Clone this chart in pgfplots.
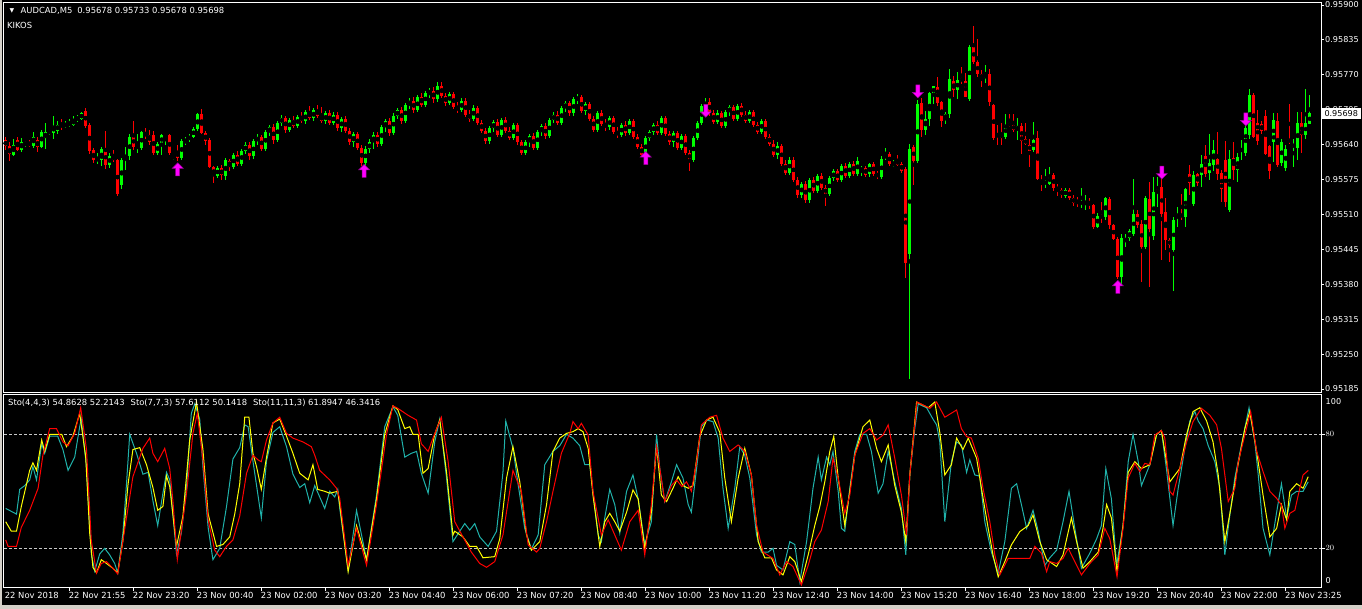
\documentclass[border=0pt]{standalone}
\usepackage{fontspec}
\setmainfont{DejaVu Sans}
\usepackage{pgfplots}
\pgfplotsset{compat=1.18}
\usepackage{pgfplotstable}
\definecolor{bull}{RGB}{0,255,0}
\definecolor{bear}{RGB}{255,0,0}
\definecolor{stoA}{RGB}{32,178,170}
\definecolor{stoB}{RGB}{255,255,0}
\definecolor{stoC}{RGB}{255,0,0}
\definecolor{arr}{RGB}{255,0,255}
\definecolor{arrline}{RGB}{150,0,150}
\definecolor{winedge}{RGB}{212,208,200}
\definecolor{lvl}{RGB}{200,200,200}

% candles in units of 0.00001 above 0.95000
\pgfplotstableread{
o h l c
648 655 630 637
637 645 610 622
621 650 618 639
648 655 628 630
630 652 626 644
641 646 636 644
644 648 636 638
638 664 634 655
649 655 627 636
636 668 634 664
652 680 632 664
662 668 658 666
662 693 650 675
665 684 660 677
677 688 668 674
674 684 670 678
676 688 672 680
677 694 675 686
685 696 682 692
688 700 686 698
703 709 670 675
677 680 623 628
630 633 605 611
611 625 603 614
611 635 600 631
631 665 595 602
602 625 596 619
619 630 608 611
611 614 545 548
565 615 558 611
616 635 592 619
619 660 612 654
656 684 630 636
634 660 625 637
634 666 630 663
662 670 650 656
658 668 640 644
658 665 620 625
625 645 620 641
641 660 620 658
656 660 640 658
658 660 620 624
616 620 612 618
627 640 610 615
615 650 612 647
643 655 640 649
649 660 645 656
655 672 652 669
669 698 665 697
697 706 660 661
662 666 640 647
649 652 596 598
598 600 569 582
582 600 578 596
596 602 575 583
582 615 575 611
610 614 590 599
599 625 594 620
620 628 600 604
604 632 600 628
628 645 622 640
640 644 612 618
618 650 614 646
646 660 640 655
655 658 628 632
632 668 628 664
664 676 656 672
672 678 642 648
648 684 644 680
680 696 674 690
690 694 662 668
668 690 664 686
686 694 670 674
674 696 670 692
692 700 680 684
684 704 678 700
700 712 686 690
690 708 684 704
704 714 690 694
694 710 680 684
684 702 678 698
698 704 676 680
680 700 676 696
696 700 666 670
670 692 664 688
688 694 662 666
666 670 640 644
644 664 636 660
660 664 630 634
634 640 600 606
606 638 600 632
632 650 624 644
644 664 632 658
658 664 636 642
642 676 638 672
672 688 664 684
684 690 656 662
662 698 658 694
694 708 688 704
704 710 678 684
684 718 680 714
714 726 706 722
722 728 698 704
704 732 700 728
728 736 710 714
714 740 710 736
736 746 726 740
740 748 718 724
724 756 720 750
750 756 726 730
730 736 712 718
718 738 714 734
734 738 706 710
710 720 698 704
704 726 700 722
722 726 692 696
696 704 682 688
688 714 684 708
708 712 676 680
680 686 662 666
666 670 642 646
646 674 642 670
670 686 664 682
682 688 654 658
658 690 654 686
686 692 662 666
666 672 648 652
652 680 648 676
676 680 640 644
644 648 620 624
624 648 620 644
644 660 636 656
656 662 630 634
634 668 630 664
664 678 656 674
674 680 650 656
656 690 652 686
686 700 680 696
696 702 676 680
680 712 676 708
708 722 700 718
718 722 694 698
698 728 694 724
724 734 716 728
728 732 698 702
702 720 696 716
716 720 684 688
688 694 664 668
668 702 664 698
698 704 674 678
678 688 666 672
672 694 668 690
690 694 660 664
664 672 652 658
658 680 654 676
676 684 656 662
662 688 658 684
684 688 650 654
654 660 632 636
636 642 616 620
620 656 616 652
652 668 646 664
664 680 658 676
676 684 658 662
662 694 658 690
690 694 656 660
660 666 640 644
644 666 636 662
662 666 630 634
634 660 630 656
656 660 620 624
624 630 590 612
612 656 608 652
652 684 648 680
680 716 676 712
712 726 706 720
720 726 694 698
698 704 678 682
682 704 678 698
698 702 670 674
674 704 670 700
700 714 694 710
710 714 684 688
688 716 684 712
712 718 692 696
696 702 680 684
684 704 680 700
700 704 672 676
676 682 660 664
664 688 660 684
684 688 650 654
654 660 638 642
642 648 616 620
620 644 614 638
638 642 600 604
604 612 584 588
588 616 584 612
612 616 570 574
574 580 540 546
546 570 540 566
566 572 532 536
536 578 532 574
574 580 550 554
554 586 550 582
582 588 556 560
560 564 526 548
548 582 544 578
578 594 572 590
590 594 570 574
574 604 570 600
600 606 578 582
582 608 578 604
604 610 582 586
586 616 582 610
591 600 582 597
597 600 580 583
585 606 580 604
604 608 582 585
587 590 576 580
580 618 576 613
617 634 612 619
623 626 600 604
602 612 598 604
611 620 600 602
604 608 588 591
595 598 392 420
436 641 204 632
636 640 565 610
610 723 606 716
717 726 655 668
668 703 658 688
688 738 674 736
734 750 716 749
747 765 712 717
719 722 673 684
688 700 678 697
697 781 690 762
758 767 729 742
742 776 725 760
764 785 752 758
758 774 728 729
725 825 722 822
822 860 790 794
794 837 765 771
771 778 747 764
764 788 755 770
771 780 712 719
714 716 649 652
658 677 639 656
660 680 639 652
654 697 650 677
680 697 672 675
677 697 664 667
667 690 649 675
675 680 623 647
650 680 640 641
639 650 599 629
630 683 626 649
652 665 574 576
574 583 554 569
568 595 560 570
567 598 564 582
583 588 554 560
560 566 545 556
556 560 540 546
544 560 540 556
556 560 536 541
541 546 526 531
537 542 524 531
531 560 522 532
530 546 518 532
532 540 520 531
528 530 483 487
487 512 484 507
507 534 494 505
505 543 500 541
539 542 483 490
490 492 462 464
464 468 390 394
394 474 378 466
459 474 450 466
466 482 460 480
474 576 470 511
511 518 485 490
492 500 384 450
450 545 446 541
539 571 375 483
469 580 462 552
556 580 524 562
561 578 425 511
515 541 444 462
462 466 421 453
444 505 368 500
505 524 487 511
511 548 500 505
505 560 487 558
585 602 546 568
530 590 525 583
585 588 562 569
583 621 562 604
619 639 580 585
587 660 574 605
602 649 590 630
613 663 574 585
587 592 534 557
611 647 524 534
518 630 515 613
615 645 574 593
593 625 571 617
628 649 611 632
624 693 618 670
658 743 650 732
732 736 652 655
680 705 640 646
678 684 660 665
693 705 620 623
637 640 576 590
645 699 608 686
684 699 598 602
605 650 600 644
596 640 590 632
650 716 641 645
637 650 598 639
634 701 611 681
681 700 625 658
658 743 650 680
678 733 678 698
}\candles

\pgfdeclareplotmark{uparr}{%
  \pgfpathmoveto{\pgfqpoint{0pt}{6.5pt}}%
  \pgfpathlineto{\pgfqpoint{5.5pt}{1pt}}%
  \pgfpathlineto{\pgfqpoint{2pt}{1pt}}%
  \pgfpathlineto{\pgfqpoint{2pt}{-6.5pt}}%
  \pgfpathlineto{\pgfqpoint{-2pt}{-6.5pt}}%
  \pgfpathlineto{\pgfqpoint{-2pt}{1pt}}%
  \pgfpathlineto{\pgfqpoint{-5.5pt}{1pt}}%
  \pgfpathclose
  \pgfusepathqfillstroke}
\pgfdeclareplotmark{dnarr}{%
  \pgfpathmoveto{\pgfqpoint{0pt}{-6.5pt}}%
  \pgfpathlineto{\pgfqpoint{5.5pt}{-1pt}}%
  \pgfpathlineto{\pgfqpoint{2pt}{-1pt}}%
  \pgfpathlineto{\pgfqpoint{2pt}{6.5pt}}%
  \pgfpathlineto{\pgfqpoint{-2pt}{6.5pt}}%
  \pgfpathlineto{\pgfqpoint{-2pt}{-1pt}}%
  \pgfpathlineto{\pgfqpoint{-5.5pt}{-1pt}}%
  \pgfpathclose
  \pgfusepathqfillstroke}

\newcommand{\mtfont}{\fontsize{8.4}{10}\selectfont}
\newcommand{\mtsmall}{\fontsize{8.1}{10}\selectfont}

\begin{document}
\begin{tikzpicture}[x=1pt,y=1pt]
\fill[black] (0,0) rectangle (1362,609);
\fill[winedge] (0,0) rectangle (1362,4);
\fill[winedge] (0,0) rectangle (2,609);
\useasboundingbox (0,0) rectangle (1362,609);

% ---------------- price panel ----------------
\begin{axis}[
  at={(4pt,216pt)}, anchor=south west,
  width=1317pt, height=390pt, scale only axis,
  xmin=-0.425, xmax=328.8, ymin=177.5, ymax=903.7,
  clip=false,
  axis line style={white, line width=1pt},
  xtick=\empty,
  ytick={185,250,315,380,445,510,575,640,705,770,835,900},
  yticklabels={0.95185,0.95250,0.95315,0.95380,0.95445,0.95510,0.95575,0.95640,0.95705,0.95770,0.95835,0.95900},
  ytick pos=right, yticklabel pos=right,
  tick align=outside, major tick length=3pt,
  tick style={white, line width=0.8pt},
  yticklabel style={font=\mtsmall, text=white, anchor=west, inner sep=1pt, xshift=0pt},
]
% wicks
\addplot[only marks, mark=none,
  restrict expr to domain={\thisrow{c}-\thisrow{o}}{0:5000},
  error bars/.cd, y dir=both, y explicit, error mark=none,
  error bar style={draw=bull, line width=1pt}]
  table[x expr=\coordindex, y expr=(\thisrow{h}+\thisrow{l})/2, y error expr=(\thisrow{h}-\thisrow{l})/2] {\candles};
\addplot[only marks, mark=none,
  restrict expr to domain={\thisrow{o}-\thisrow{c}}{0.5:5000},
  error bars/.cd, y dir=both, y explicit, error mark=none,
  error bar style={draw=bear, line width=1pt}]
  table[x expr=\coordindex, y expr=(\thisrow{h}+\thisrow{l})/2, y error expr=(\thisrow{h}-\thisrow{l})/2] {\candles};
% bodies
\addplot[only marks, mark=none,
  restrict expr to domain={\thisrow{c}-\thisrow{o}}{0:5000},
  error bars/.cd, y dir=both, y explicit, error mark=none,
  error bar style={draw=bull, line width=3pt}]
  table[x expr=\coordindex, y expr=(\thisrow{o}+\thisrow{c})/2, y error expr={max(abs(\thisrow{c}-\thisrow{o})/2,0.6)}] {\candles};
\addplot[only marks, mark=none,
  restrict expr to domain={\thisrow{o}-\thisrow{c}}{0.5:5000},
  error bars/.cd, y dir=both, y explicit, error mark=none,
  error bar style={draw=bear, line width=3pt}]
  table[x expr=\coordindex, y expr=(\thisrow{o}+\thisrow{c})/2, y error expr={max(abs(\thisrow{c}-\thisrow{o})/2,0.6)}] {\candles};
% signal arrows
\addplot[only marks, mark=uparr, mark options={fill=arr, draw=arrline, line width=0.5pt}]
  coordinates {(43,594) (89.6,591) (160,615) (278,375)};
\addplot[only marks, mark=dnarr, mark options={fill=arr, draw=arrline, line width=0.5pt}]
  coordinates {(175,703) (228,739) (289,588) (310,687)};
% current price box
\node[fill=white, text=black, anchor=west, inner sep=1pt, minimum height=11pt, minimum width=40pt, font=\mtsmall]
  at (axis cs:328.8,698) {0.95698};
\end{axis}

% ---------------- stochastic panel ----------------
\begin{axis}[
  at={(4pt,21pt)}, anchor=south west,
  width=1317pt, height=193pt, scale only axis,
  xmin=-0.425, xmax=328.8, ymin=-0.9, ymax=100.7,
  clip=false,
  axis line style={white, line width=1pt},
  xtick={16,32,...,320},
  xticklabels={22 Nov 21:55,22 Nov 23:20,23 Nov 00:40,23 Nov 02:00,23 Nov 03:20,23 Nov 04:40,23 Nov 06:00,23 Nov 07:20,23 Nov 08:40,23 Nov 10:00,23 Nov 11:20,23 Nov 12:40,23 Nov 14:00,23 Nov 15:20,23 Nov 16:40,23 Nov 18:00,23 Nov 19:20,23 Nov 20:40,23 Nov 22:00,23 Nov 23:25},
  extra x ticks={0.0}, extra x tick labels={22 Nov 2018},
  extra x tick style={tick style={draw=none}},
  xtick pos=bottom, ytick pos=right, yticklabel pos=right,
  ytick={20,80},
  extra y ticks={2.9,97.2}, extra y tick labels={0,100},
  extra y tick style={tick style={draw=none}},
  tick align=outside, major tick length=3.5pt,
  tick style={white, line width=0.8pt},
  xticklabel style={font=\mtfont, text=white, anchor=north west, inner sep=0pt, xshift=-1pt, yshift=-1pt},
  yticklabel style={font=\mtsmall, text=white, anchor=west, inner sep=1pt},
]
\addplot[lvl, line width=0.8pt, dash pattern=on 3pt off 2pt] coordinates {(-0.425,20) (328.8,20)};
\addplot[lvl, line width=0.8pt, dash pattern=on 3pt off 2pt] coordinates {(-0.425,80) (328.8,80)};
% Sto(4,4,3)
\addplot[stoA, line width=1pt] coordinates {
(0,41)(2.7,38)(3.5,51)(4.75,53)(6,56)(6.8,63)(7.7,56)(9,75)(9.75,70)(11,79)(13,79)(14.3,72)(15.6,61)(17.25,68)(18.5,84)(18.9,88)(20.2,63)(21.4,17)(22.25,8)(23.5,17)(24.75,20)(26,16.5)(27.25,12)(28,7)(29.3,28)(30.2,54)(31,80)(32.7,70)(34.3,59)(35.6,60)(36.8,45)(38,32)(39.3,49)(40.2,60)(41,56)(42.7,17)(43.9,28)(45.2,52)(46.4,91)(47.25,96)(48.5,88)(49.3,63)(50.6,31)(51.8,14)(53.5,20)(55.2,42)(56.8,67)(58.5,73)(59.75,85)(60.6,84)(61.8,66)(63.9,36)(65.2,66)(66.8,81)(68.5,84)(70.2,73.5)(71.8,59)(73.5,52)(74.75,54)(76,44)(77.25,53)(78.5,47)(79.75,41)(81,50)(82.25,47)(83,51)(83.5,41)(85.6,8.6)(87.7,40)(90.2,14)(92.7,48)(94.75,84)(96.8,94.5)(98,90)(99.75,68)(101.4,70)(102.7,71)(103.9,59.5)(105.6,49)(107.25,76)(108.5,88)(110.2,57)(111.8,23.5)(113.5,29)(114.75,33)(116,29.6)(117.25,33)(118.5,26)(120.6,21)(122.7,29)(124.3,60)(125,87)(126.8,72.6)(128,55)(129.75,30.5)(131.4,19.6)(133.1,27)(134.75,64)(136.8,71)(138.5,74)(140.2,80)(141.8,78)(143.5,74)(144.75,64)(146,64)(146.8,50)(148.1,27)(148.9,23.5)(149.75,36)(151,51)(152.25,43)(153.5,28)(155.2,50)(156.8,58.6)(158.1,46)(159.75,22)(161.4,34)(162.7,80)(163.5,62)(164.75,44.6)(166.4,55)(167.7,64)(169.3,57)(170.6,43)(171.4,39)(172.7,62)(173.9,84)(175.2,87.5)(176.8,86.7)(178.1,78)(179.3,51.6)(180.6,30.5)(182.25,51.6)(183.5,73.5)(184.75,69)(186,57)(187.7,27)(188.9,18)(190.6,18)(191.8,20)(192.7,11)(194.3,8.6)(196,23.5)(197.25,22)(198.5,2.5)(200.2,23.5)(201.8,51.6)(203.1,68)(203.9,56)(205.2,68)(206,64)(206.8,71)(208.1,50)(208.9,30.5)(209.75,29)(211,51.6)(212.25,71)(213.5,80)(215.2,80)(216.4,71)(218.1,49)(219.3,54)(220.6,71)(222.25,55)(223.9,41)(225,16.5)(226,58.6)(227.25,83)(228.1,96)(230.2,94)(231.8,88)(232.7,85)(233.5,76)(234.75,34)(236.4,65.6)(237.7,76)(238.9,74.4)(240.2,60)(241,66.5)(242.25,58.6)(243.5,58)(244.75,34)(246.4,18)(248.1,7)(249.75,23.5)(251.4,51.6)(252.7,54)(253.9,43)(255.2,30.5)(256.8,40)(258.1,29)(259.75,11)(261,15)(262.7,19)(264.3,34)(265.8,50)(267.25,30.5)(268.9,9.5)(271,17.4)(272.7,25)(273.9,32)(275,62)(276.4,46)(277.7,11)(279.3,32)(280.6,65.6)(281.8,80)(283.1,65.6)(283.9,53)(286,64)(287.7,80)(288.9,82)(290.2,61)(291.8,32)(293.1,51.6)(294.75,72.6)(296,87)(297.25,92)(298.1,87)(299.3,83)(300.6,74)(302.25,65.6)(303.5,51.6)(304.75,16.5)(306,37.5)(307.25,57)(308.9,74.4)(310.8,94)(312.25,76)(313.1,58.6)(314.3,30.5)(316,16.5)(317.7,39)(318.9,54)(320.2,36)(321.4,48)(322.7,50)(324.3,50)(325.6,55)};
% Sto(7,7,3)
\addplot[stoB, line width=1pt] coordinates {
(0,34)(1.4,29)(2.7,29)(3.9,42)(6,61)(6.8,65)(7.7,61)(9,77)(9.75,71)(11,80)(14,80)(15.2,73.5)(16.8,79)(18.5,91)(20,68)(21,28)(21.8,10)(22.7,7)(23.9,14)(25.2,12)(26.8,9.5)(28,7)(29.3,24)(30.6,54)(31.8,72)(33.5,73)(35.2,64)(36.8,52)(38,40)(39.3,42)(40.2,58)(41,52.5)(42.7,21)(44.3,37)(46,77)(47.7,97)(49.3,72)(50.6,38)(52.7,21)(54.3,22)(56,26)(57.25,38)(58.5,54)(59.75,89)(60.8,89)(61.8,70)(62.7,63)(63.9,51)(65.2,68)(66.8,86)(68.5,88)(70.2,79)(71.8,70)(73.5,59.5)(75.6,56)(76.8,64)(78,51)(79.75,50)(81,49)(83,50)(83.5,43)(85.6,7.7)(87.7,32)(90.2,14)(92.7,46)(94.75,80)(96.8,95)(98,93)(99.75,83)(101,84)(101.8,80)(103.1,80)(104.3,59.5)(105.6,62)(107.25,80)(108.5,87.5)(110.2,60)(111.8,27)(112.25,29)(114.3,26)(116,21)(117.7,21)(119.3,15)(122.25,15.6)(123.5,25)(125.2,57)(126.8,73.5)(128.5,55)(130.2,27)(131.4,19)(133.5,23.5)(135.2,43)(136.8,71)(138.5,78)(140.2,80.5)(141.8,81.4)(143.1,83)(144.3,81.4)(145.6,72.6)(146.8,48)(148.5,21)(149.75,34)(151,38.4)(152.25,34)(153.5,29)(155.2,39)(156.8,50.7)(158.1,46)(159.75,20)(161.4,39)(162.7,74)(163.9,48)(165.2,44.6)(166.8,51.6)(168.1,57.7)(169.3,53)(170.6,51.6)(171.8,53)(173.5,79)(175.2,87.5)(176.8,89)(178.5,81)(179.75,57)(181.4,34)(183.1,57)(184.75,72.6)(186.4,58.6)(188.1,23.5)(189.75,15)(191.4,15)(192.7,8.6)(194.3,6)(196,15.6)(197.25,13)(198.9,2.5)(200.6,16.5)(202.25,32)(203.5,42)(204.75,55)(206,71)(207,79)(208.1,57)(209.75,32)(211,50)(212.25,69)(214.3,84)(216,87.5)(217.7,72.6)(218.9,65.6)(220.6,74.4)(222.25,53)(223.9,39)(225,23.5)(226,58.6)(227.7,97)(230.6,94)(232.25,97)(233.5,81)(234.75,58.6)(236.4,64)(237.7,78)(239.3,72)(240.6,78)(242.7,67.4)(243.9,51.6)(245.6,30.5)(246.8,16.5)(248.1,5)(249.75,13)(251.4,21.8)(253.5,28.8)(255.6,32)(256.8,37.5)(258.5,23.5)(260.2,14)(262.7,10.4)(264.3,16.5)(266.4,36)(267.7,23.5)(269.3,9.5)(271,13)(273.1,18)(274.3,30.5)(275.2,43)(276.4,36)(277.8,7.7)(279.3,32)(280.6,60)(282.25,65.6)(283.9,62)(286,64)(287.7,80)(288.9,82)(291,55)(293.5,62)(295.2,80)(296.8,92)(298.5,94)(300.2,87)(301.8,76)(303.1,58.6)(304.75,23.5)(306.4,43)(307.7,60)(309.75,83)(311,92)(312.7,71)(314.3,48)(316,26)(317.7,30.5)(318.9,43)(320.2,35)(321,50)(322.7,54)(324.3,51.6)(325.6,57.7)};
% Sto(11,11,3)
\addplot[stoC, line width=1pt] coordinates {
(0,24.4)(0.6,21)(2.7,21)(3.9,31)(6,40)(8.1,51.6)(9.3,69)(11,83)(12.7,83)(14.3,76)(15.6,74)(17.25,80.5)(18.75,94)(20.2,72)(21.4,24)(22.7,7)(23.9,12)(25.2,13)(26.8,9.5)(28,6.5)(29.75,30)(31.8,57.7)(34.3,72.6)(36,78)(36.8,70)(38,65.6)(39.75,72.6)(41,62)(41.8,45)(42.9,14)(45.2,49)(46.8,80.5)(47.9,91)(49.3,66.5)(50.6,35)(52.25,19)(53.5,15.6)(55.2,21)(56.8,24.4)(58.5,37)(60.2,59.5)(61.8,69)(63.1,66.5)(63.9,65.6)(65.2,77)(66.8,86)(68.5,89)(70.2,80.5)(71.8,78)(74.3,76)(76.4,73.5)(77.25,69)(78.5,61)(81,56)(82.7,51.6)(83.5,46.3)(85.6,11)(87.7,30.5)(90.2,11)(92.7,43)(95.2,80)(96.8,95)(98,93.7)(100.6,90)(102.7,87.5)(103.9,75)(105.6,71)(106.8,78)(108.9,89)(110.6,65.6)(112.25,34)(114.3,26)(116.4,18)(118.5,12)(120.2,10)(122.25,13)(124.3,27)(126.8,61)(128.9,50)(130.6,21.8)(132.7,18)(133.5,20)(135.2,34)(136.8,50)(138.9,70)(141,80.5)(141.8,86.7)(143.1,83)(143.9,85.8)(145.6,79.6)(146.8,50)(148.9,27)(150.6,35)(152.25,27)(153.9,19)(156,34)(158.1,40)(159.75,16.5)(161.4,43)(162.7,73.5)(164.75,44.6)(166.4,53)(167.7,56)(169,52.5)(170.2,55)(171.4,50)(172.7,65.6)(173.9,85)(176,89)(177.7,90)(179.3,78)(181,71)(183.1,74.4)(184.75,71)(186.4,58.6)(187.7,32)(189.3,18)(191.8,14.7)(193.5,6)(195.2,13)(196.8,10.4)(198.9,0.7)(200.6,11)(202.25,23.5)(203.9,29.6)(205.6,44.6)(206.8,67.4)(208.1,57)(209.75,38.4)(211,48)(212.25,69)(214.3,80.5)(216,83)(217.7,77)(219.3,79.6)(220.6,85)(222.25,67.4)(223.9,48)(225.2,27)(226,58.6)(227.8,97)(231,93.7)(232.7,97)(234.75,89)(237.7,92.8)(238.9,83)(240.2,78.8)(241.4,78)(243.1,67.4)(244.3,51.6)(246,34)(247.25,16.5)(248.5,6)(250.6,14.7)(252.7,14.7)(256,14.7)(257.25,21)(258.9,17.4)(260.2,7.7)(261,13)(262.7,12)(264.3,14.7)(265.6,20)(267.25,13)(268.9,6)(271,12)(273.1,16.5)(274.75,30.5)(276,25)(277.8,5)(279.3,30.5)(280.6,57)(282.25,64.7)(283.5,60.4)(284.75,64.7)(286,64)(287.25,79.6)(288.9,82)(289.75,78)(291,50)(291.8,48)(293.5,62)(295.2,76)(296.8,86.7)(298.9,93.7)(301,90)(302.7,85)(303.9,72.6)(305.6,44.6)(307.25,51.6)(308.1,65.6)(309.75,79.6)(311.2,92)(312.7,71)(314.3,60.4)(316,50)(317.7,46.3)(318.9,42.8)(319.75,30.5)(321,38.4)(322.25,40)(323.1,48)(324.3,58.6)(325.6,61)};
\end{axis}

% header texts
\node[anchor=west, text=white, inner sep=0pt, font=\fontsize{6}{6}\selectfont] at (9.5,598) {▼};
\node[anchor=west, text=white, inner sep=0pt, font=\mtfont] at (20.5,598) {AUDCAD,M5\hspace{5pt}0.95678 0.95733 0.95678 0.95698};
\node[anchor=west, text=white, inner sep=0pt, font=\mtfont] at (7,584) {KIKOS};
\node[anchor=west, text=white, inner sep=0pt, font=\mtfont] at (8,206) {Sto(4,4,3) 54.8628 52.2143\hspace{6pt}Sto(7,7,3) 57.6112 50.1418\hspace{6pt}Sto(11,11,3) 61.8947 46.3416};
\end{tikzpicture}
\end{document}
